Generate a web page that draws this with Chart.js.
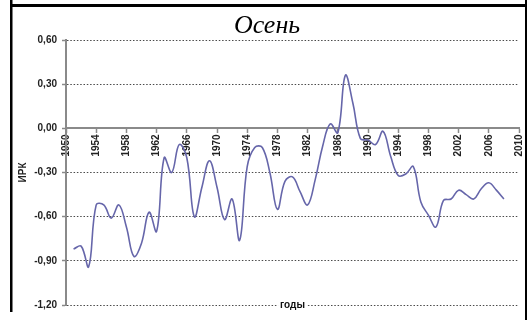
<!DOCTYPE html>
<html>
<head>
<meta charset="utf-8">
<script src="https://cdn.jsdelivr.net/npm/chart.js@4/dist/chart.umd.min.js"></script>
<style>
    html, body { margin: 0; padding: 0; background: #ffffff; }
    #wrap { width: 527px; height: 320px; }
</style>
</head>
<body>
<div id="wrap"><canvas id="grafico" width="527" height="320"></canvas></div>
<script>
const anos = [
    1951, 1952, 1953, 1954, 1955, 1956, 1957, 1958, 1959, 1960,
    1961, 1962, 1963, 1964, 1965, 1966, 1967, 1968, 1969, 1970,
    1971, 1972, 1973, 1974, 1975, 1976, 1977, 1978, 1979, 1980,
    1981, 1982, 1983, 1984, 1985, 1986, 1987, 1988, 1989, 1990,
    1991, 1992, 1993, 1994, 1995, 1996, 1997, 1998, 1999, 2000,
    2001, 2002, 2003, 2004, 2005, 2006, 2007, 2008
];
const irk = [
    -0.82, -0.80, -0.94, -0.52, -0.52, -0.61, -0.52, -0.67, -0.87, -0.78,
    -0.57, -0.70, -0.20, -0.30, -0.11, -0.20, -0.60, -0.40, -0.22, -0.40,
    -0.62, -0.48, -0.76, -0.26, -0.13, -0.13, -0.30, -0.55, -0.36, -0.33,
    -0.43, -0.52, -0.35, -0.12, 0.03, -0.03, 0.36, 0.17, -0.07, -0.08,
    -0.11, -0.02, -0.19, -0.32, -0.31, -0.26, -0.50, -0.59, -0.67, -0.49,
    -0.48, -0.42, -0.45, -0.48, -0.41, -0.37, -0.42, -0.48
];
const anosEixo = [1950, 1954, 1958, 1962, 1966, 1970, 1974, 1978, 1982, 1986, 1990, 1994, 1998, 2002, 2006, 2010];
const valoresEixo = [0.6, 0.3, 0, -0.3, -0.6, -0.9, -1.2];

const titulo = "Осень";
const tituloX = "годы";
const tituloY = "ИРК";

// moldura preta, titulo e "годы" desenhados por cima
const molduraPlugin = {
    id: "moldura",
    afterDraw(chart) {
        const { ctx, chartArea } = chart;
        ctx.save();

        ctx.fillStyle = "#000000";
        ctx.fillRect(10, 4, 517, 3);
        ctx.fillRect(10, 0, 2.5, 312);
        ctx.fillRect(525, 0, 2, 320);

        ctx.font = "italic 26px 'Liberation Serif', serif";
        ctx.textAlign = "center";
        ctx.textBaseline = "alphabetic";
        ctx.fillText(titulo, 267, 33);

        ctx.font = "bold 10px 'Liberation Sans', Arial, sans-serif";
        ctx.textBaseline = "middle";
        const xt = (chartArea.left + chartArea.right) / 2;
        const w = ctx.measureText(tituloX).width;
        ctx.fillStyle = "#ffffff";
        ctx.fillRect(xt - w / 2 - 2, chartArea.bottom - 5, w + 4, 10);
        ctx.fillStyle = "#111111";
        ctx.fillText(tituloX, xt, chartArea.bottom + 0.5);

        ctx.restore();
    }
};

const fonteEixo = {
    family: "'Liberation Sans', Arial, sans-serif",
    size: 10,
    weight: "bold"
};

new Chart(document.getElementById("grafico"), {
    type: "line",
    data: {
        datasets: [{
            label: tituloY,
            data: anos.map((ano, i) => ({ x: ano, y: irk[i] })),
            borderColor: "#6666aa",
            borderWidth: 1.6,
            pointRadius: 0,
            tension: 0.4,
            fill: false
        }]
    },
    plugins: [molduraPlugin],
    options: {
        responsive: false,
        animation: false,
        layout: {
            padding: { top: 40, right: 8, bottom: 15, left: 6 }
        },
        plugins: {
            legend: { display: false },
            tooltip: { enabled: false },
            title: { display: false }
        },
        scales: {
            x: {
                type: "linear",
                position: { y: 0 },
                min: 1950,
                max: 2010,
                afterBuildTicks: scale => {
                    scale.ticks = anosEixo.map(v => ({ value: v }));
                },
                afterFit: scale => {
                    scale.paddingLeft = 0;
                    scale.paddingRight = 0;
                },
                grid: {
                    drawOnChartArea: false,
                    drawTicks: true,
                    tickLength: 4,
                    tickColor: "#8a8a8a",
                    tickWidth: 1.5
                },
                border: {
                    display: true,
                    color: "#8a8a8a",
                    width: 2
                },
                ticks: {
                    autoSkip: false,
                    minRotation: 90,
                    maxRotation: 90,
                    padding: 2,
                    color: "#222222",
                    font: fonteEixo,
                    callback: v => String(v)
                }
            },
            y: {
                min: -1.2,
                max: 0.6,
                afterBuildTicks: scale => {
                    scale.ticks = valoresEixo.map(v => ({ value: v }));
                },
                afterFit: scale => {
                    scale.width = 60;
                },
                grid: {
                    color: "#4a4a4a",
                    lineWidth: 1,
                    drawTicks: true,
                    tickLength: 4,
                    tickColor: "#8a8a8a",
                    tickWidth: 1.5,
                    tickBorderDash: []
                },
                border: {
                    display: true,
                    color: "#8a8a8a",
                    width: 2,
                    dash: [1.5, 1.8]
                },
                title: {
                    display: true,
                    text: tituloY,
                    color: "#222222",
                    font: fonteEixo,
                    padding: { top: 11, bottom: 0 }
                },
                ticks: {
                    padding: 5,
                    color: "#222222",
                    font: fonteEixo,
                    callback: v => Number(v).toFixed(2).replace(".", ",")
                }
            }
        }
    }
});
</script>
</body>
</html>
